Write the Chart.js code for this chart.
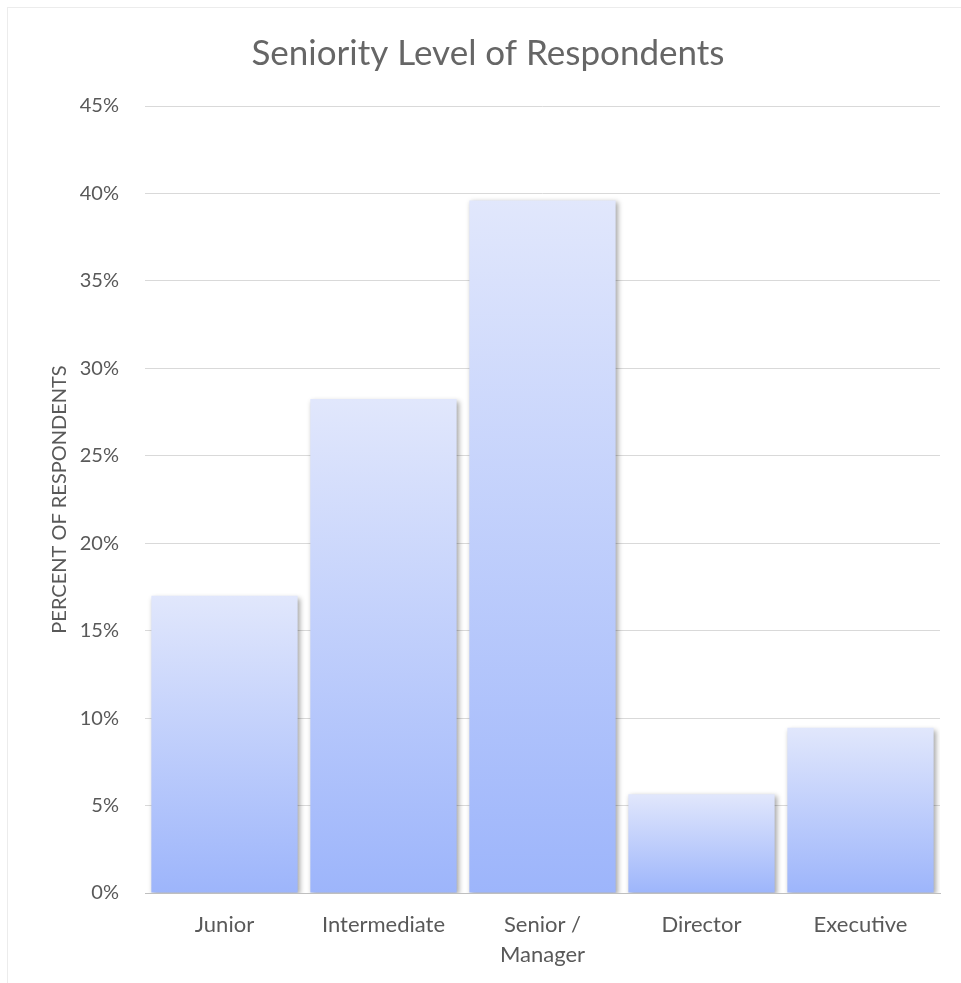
<!DOCTYPE html>
<html>
<head>
<meta charset="utf-8">
<script src="https://cdn.jsdelivr.net/npm/chart.js@4"></script>
<style>
html,body{margin:0;padding:0;background:#fff;}
#wrap{position:relative;width:961px;height:983px;}
</style>
</head>
<body>
<div id="wrap"><canvas id="c" width="961" height="983"></canvas></div>
<script>
const categories = ['Junior', 'Intermediate', ['Senior /', 'Manager'], 'Director', 'Executive'];
const percentValues = [17.0, 28.25, 39.6, 5.65, 9.45];
const tickLabels = ['0%', '5%', '10%', '15%', '20%', '25%', '30%', '35%', '40%', '45%'];

const FONT = "Lato, 'Open Sans', sans-serif";
const GREY = '#595959';

const frame = {
  id: 'frame',
  beforeDraw(chart) {
    const c = chart.ctx;
    c.save();
    c.fillStyle = '#fff';
    c.fillRect(0, 0, chart.width, chart.height);
    c.strokeStyle = '#ececec';
    c.lineWidth = 1;
    c.strokeRect(7.5, 7.5, chart.width, chart.height);
    c.restore();
  }
};
const shadow = {
  id: 'shadow',
  beforeDatasetsDraw(chart) {
    const c = chart.ctx;
    c.save();
    c.shadowColor = 'rgba(0,0,0,0.35)';
    c.shadowBlur = 5;
    c.shadowOffsetX = 2;
    c.shadowOffsetY = 2;
  },
  afterDatasetsDraw(chart) {
    chart.ctx.restore();
  }
};

function barGradient(ctx) {
  const chart = ctx.chart;
  const y = chart.scales.y;
  if (!y || ctx.raw === undefined) return '#b8c9fb';
  const top = y.getPixelForValue(ctx.raw);
  const bottom = y.getPixelForValue(0);
  if (!isFinite(top) || !isFinite(bottom) || top === bottom) return '#b8c9fb';
  const g = chart.ctx.createLinearGradient(0, top, 0, bottom);
  g.addColorStop(0, '#e1e7fc');
  g.addColorStop(1, '#9db5fb');
  return g;
}

new Chart(document.getElementById('c'), {
  type: 'bar',
  data: {
    labels: categories,
    datasets: [{
      data: percentValues,
      backgroundColor: barGradient,
      borderWidth: 0,
      categoryPercentage: 1,
      barPercentage: 0.92
    }]
  },
  plugins: [frame, shadow],
  options: {
    responsive: false,
    animation: false,
    layout: { padding: { left: 36, right: 21, top: 0, bottom: 0 } },
    plugins: {
      legend: { display: false },
      tooltip: { enabled: false },
      title: {
        display: true,
        text: 'Seniority Level of Respondents',
        color: '#666666',
        font: { family: FONT, size: 35, weight: 'normal' },
        padding: { top: 33, bottom: 31 }
      }
    },
    scales: {
      x: {
        grid: { display: false, drawTicks: false },
        border: { display: true, color: '#bfbfbf', width: 1 },
        ticks: {
          color: GREY,
          font: { family: FONT, size: 22, lineHeight: 1.35 },
          padding: 17,
          maxRotation: 0,
          autoSkip: false
        },
        afterFit(scale) { scale.height = 90; }
      },
      y: {
        min: 0,
        max: 45,
        grid: { color: '#d9d9d9', lineWidth: 1, drawTicks: false },
        border: { display: false },
        ticks: {
          stepSize: 5,
          color: GREY,
          font: { family: FONT, size: 20 },
          padding: 26,
          callback: (v, i) => tickLabels[i]
        },
        title: {
          display: true,
          text: 'PERCENT OF RESPONDENTS',
          color: GREY,
          font: { family: FONT, size: 20 },
          padding: { top: 12, bottom: 0 }
        },
        afterFit(scale) { scale.width = 109; }
      }
    }
  }
});
</script>
</body>
</html>
